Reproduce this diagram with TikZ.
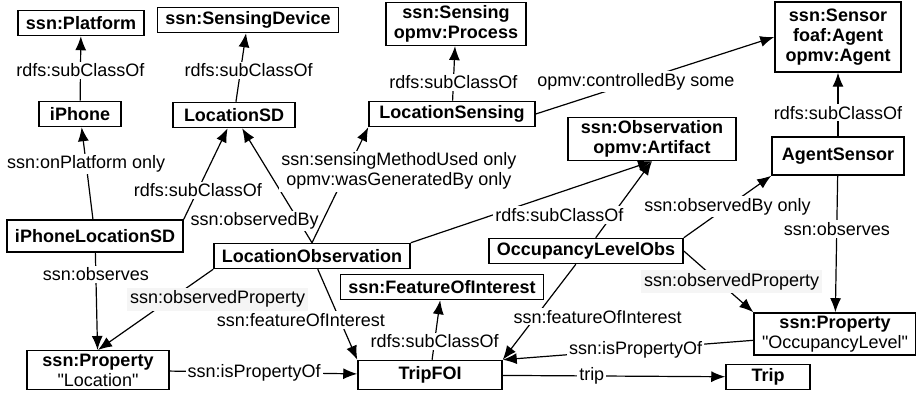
\documentclass[tikz,border=0pt]{standalone}
\usepackage{fontspec}
\setmainfont{Liberation Sans}[Ligatures=TeXOff]
\usetikzlibrary{arrows.meta}

\begin{document}
\begin{tikzpicture}[x=0.5pt,y=-0.5pt,
    font=\fontsize{9}{10}\selectfont,
    classbox/.style={draw,line width=0.75pt,font=\fontsize{9}{10}\selectfont\bfseries,
      align=center,inner xsep=4pt,inner ysep=1.5pt,minimum height=12.5pt},
    linkto/.style={line width=0.6pt,-{Latex[length=7pt,width=5.5pt]}},
    edgelbl/.style={fill=white,inner sep=1pt},
    graylbl/.style={fill=black!4,inner sep=1.5pt}]
  \useasboundingbox (0,0) rectangle (916,394);

  \node[classbox] (platform) at (81,23) {ssn:Platform};
  \node[classbox] (sensdev) at (248,20) {ssn:SensingDevice};
  \node[classbox] (sensing) at (456,24) {ssn:Sensing\\opmv:Process};
  \node[classbox,minimum width=63pt,minimum height=35pt] (sensor) at (838,37) {ssn:Sensor\\foaf:Agent\\opmv:Agent};
  \node[classbox,minimum width=41pt] (iphone) at (80,114) {iPhone};
  \node[classbox,minimum width=61pt] (locsd) at (234,115) {LocationSD};
  \node[classbox,minimum width=83pt] (locsensing) at (452,114) {LocationSensing};
  \node[classbox,minimum width=84pt] (observation) at (652,139) {ssn:Observation\\opmv:Artifact};
  \node[classbox,minimum width=66pt,minimum height=19pt] (agentsensor) at (838,156) {AgentSensor};
  \node[classbox,minimum height=16pt] (iphonelocsd) at (95,236) {iPhoneLocationSD};
  \node[classbox] (locobs) at (312,256) {LocationObservation};
  \node[classbox] (occobs) at (586,251) {OccupancyLevelObs};
  \node[classbox] (foi) at (442,287) {ssn:FeatureOfInterest};
  \node[classbox,minimum width=71pt] (proploc) at (98,370) {ssn:Property\\{\mdseries "Location"}};
  \node[classbox,minimum width=72pt,minimum height=14.5pt] (tripfoi) at (430,375) {TripFOI};
  \node[classbox,minimum width=42pt] (trip) at (768,377) {Trip};
  \node[classbox] (propocc) at (835,334) {ssn:Property\\{\mdseries "OccupancyLevel"}};

  \draw[linkto] (iphone) -- node[edgelbl,pos=.47] {rdfs:subClassOf} (platform);
  \draw[linkto] (locsd) -- node[edgelbl,pos=.46,xshift=4pt] {rdfs:subClassOf} (sensdev);
  \draw[linkto] (locsensing) -- node[edgelbl,pos=.34] {rdfs:subClassOf} (sensing);
  \draw[linkto] (locsensing.east) -- node[edgelbl,pos=.42] {opmv:controlledBy some} (sensor.west);
  \draw[linkto] (agentsensor) -- node[edgelbl,pos=.37] {rdfs:subClassOf} (sensor);
  \draw[linkto] (iphonelocsd) -- node[edgelbl,pos=.6] {ssn:onPlatform only} (iphone);
  \draw[linkto] (iphonelocsd.north east) -- node[edgelbl,pos=.32] {rdfs:subClassOf} (locsd);
  \draw[linkto] (locobs.north) -- node[edgelbl,pos=.19,xshift=-22pt] {ssn:observedBy} (locsd);
  \draw[linkto] (locobs.north) -- node[edgelbl,pos=.62,xshift=26pt,align=center]
    {ssn:sensingMethodUsed only\\opmv:wasGeneratedBy only} (locsensing.south west);
  \draw[linkto] (occobs) -- (observation.south);
  \draw[linkto] (locobs.north east) -- node[edgelbl,pos=.34,anchor=west] {rdfs:subClassOf} (observation.south);
  \draw[linkto] (occobs.north east) -- node[edgelbl,pos=.5] {ssn:observedBy only} (agentsensor.south west);
  \draw[linkto] (agentsensor) -- node[edgelbl,pos=.39] {ssn:observes} (propocc);
  \draw[linkto] (occobs.east) -- node[graylbl,pos=.5,xshift=6.5pt] {ssn:observedProperty} (propocc.north west);
  \draw[linkto] (occobs) -- node[edgelbl,pos=.55,xshift=31pt] {ssn:featureOfInterest} (tripfoi.north east);
  \draw[linkto] (propocc) -- node[edgelbl,pos=.47] {ssn:isPropertyOf} (tripfoi.north east);
  \draw[linkto] (locobs) -- node[edgelbl,pos=.56,xshift=-19.5pt] {ssn:featureOfInterest} (tripfoi.north west);
  \draw[linkto] (locobs.south west) -- node[graylbl,pos=.37,xshift=23.5pt] {ssn:observedProperty} (proploc.north);
  \draw[linkto] (iphonelocsd) -- node[edgelbl,pos=.22] {ssn:observes} (proploc);
  \draw[linkto] (proploc) -- node[edgelbl,pos=.45] {ssn:isPropertyOf} (tripfoi);
  \draw[linkto] (tripfoi) -- node[edgelbl,pos=.31] {rdfs:subClassOf} (foi);
  \draw[linkto] (tripfoi) -- node[edgelbl,pos=.4] {trip} (trip);
\end{tikzpicture}
\end{document}
